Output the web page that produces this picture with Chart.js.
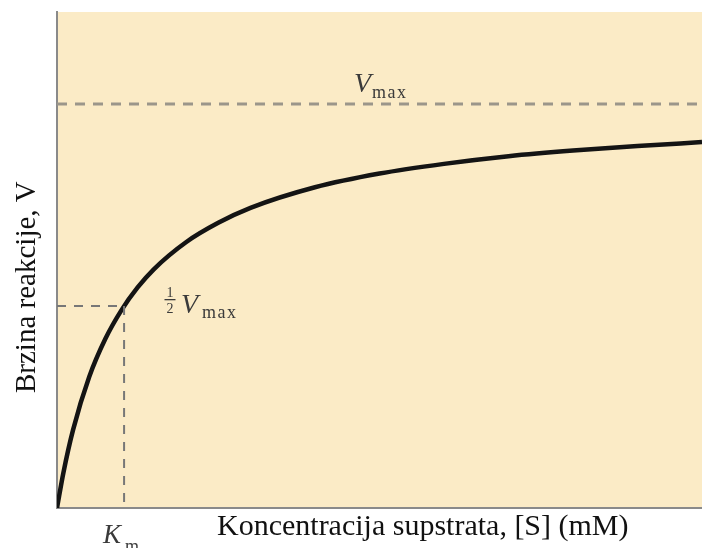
<!DOCTYPE html>
<html><head><meta charset="utf-8">
<script src="https://cdn.jsdelivr.net/npm/chart.js@4.4.1/dist/chart.umd.min.js"></script>
<style>html,body{margin:0;padding:0;background:#fff}#wrap{width:702px;height:548px}</style>
</head><body><div id="wrap"><canvas id="c" width="702" height="548"></canvas></div>
<script>
// Substrate concentration [S] (mM) and reaction rate V
const substrate = [0, 0.1, 0.25, 0.5, 0.75, 1, 1.25, 1.5, 2, 2.5, 3, 4, 5, 6, 7, 8, 9, 10];
const rate      = [0, 8.8, 19.4, 32.5, 41.9, 49.0, 54.6, 59.1, 65.8, 70.6, 74.3, 79.4, 82.8, 85.2, 87.1, 88.5, 89.6, 90.6];
const vmax = 100;
const km = 1.04;
const xRange = [0, 10];
const yRange = [0, 122.8];
const xTitle = "Koncentracija supstrata, [S] (mM)";
const yTitle = "Brzina reakcije, V";

const curve = substrate.map((s, i) => ({x: s, y: rate[i]}));
const dashColor = '#9b968a';

function sub(ctx, main, subText, x, y, mainSize, subSize, subDx, subDy) {
  ctx.font = 'italic ' + mainSize + 'px "Liberation Serif", serif';
  ctx.fillText(main, x, y);
  ctx.font = subSize + 'px "Liberation Serif", serif';
  ctx.letterSpacing = '1.5px';
  ctx.fillText(subText, x + subDx, y + subDy);
  ctx.letterSpacing = '0px';
}

const bgPlugin = {
  id: 'bg',
  beforeDraw(chart) {
    const {ctx, chartArea: a} = chart;
    ctx.save();
    ctx.fillStyle = '#fbebc6';
    ctx.fillRect(a.left, a.top, a.right - a.left, a.bottom - a.top);
    ctx.restore();
  },
  afterDraw(chart) {
    const {ctx} = chart;
    ctx.save();
    // axis titles
    ctx.fillStyle = '#111';
    ctx.textBaseline = 'alphabetic';
    ctx.textAlign = 'left';
    ctx.font = '30px "Liberation Serif", "Times New Roman", serif';
    ctx.fillText(xTitle, 217, 535);
    ctx.save();
    ctx.translate(35, 393);
    ctx.rotate(-Math.PI / 2);
    ctx.font = '29px "Liberation Serif", "Times New Roman", serif';
    ctx.fillText(yTitle, 0, 0);
    ctx.restore();
    // Vmax label
    ctx.fillStyle = '#3a3a3a';
    sub(ctx, 'V', 'max', 354, 92, 28, 18, 18, 6);
    // 1/2 Vmax label
    ctx.font = '14px "Liberation Serif", serif';
    ctx.textAlign = 'center';
    ctx.fillText('1', 170, 297);
    ctx.fillText('2', 170, 313);
    ctx.fillRect(164.5, 299, 11, 1.3);
    ctx.textAlign = 'left';
    sub(ctx, 'V', 'max', 181, 313, 28, 18, 21, 5);
    // Km label
    sub(ctx, 'K', 'm', 103, 543, 27, 18, 22, 9);
    ctx.restore();
  }
};

new Chart(document.getElementById('c'), {
  type: 'line',
  data: {
    datasets: [
      {data: [{x: xRange[0], y: vmax}, {x: xRange[1], y: vmax}], borderColor: dashColor, borderWidth: 3, borderDash: [10, 8], pointRadius: 0},
      {data: [{x: xRange[0], y: vmax / 2}, {x: km, y: vmax / 2}], borderColor: '#777', borderWidth: 2, borderDash: [9, 8], pointRadius: 0},
      {data: [{x: km, y: vmax / 2}, {x: km, y: 0}], borderColor: '#777', borderWidth: 2, borderDash: [9, 8], pointRadius: 0},
      {data: curve, borderColor: '#141414', borderWidth: 4.5, pointRadius: 0, cubicInterpolationMode: 'monotone'}
    ]
  },
  options: {
    responsive: false,
    animation: false,
    layout: {padding: {left: 57, top: 12, right: 0, bottom: 40}},
    plugins: {legend: {display: false}, tooltip: {enabled: false}},
    scales: {
      x: {type: 'linear', min: xRange[0], max: xRange[1],
          grid: {display: false, drawTicks: false}, ticks: {display: false},
          border: {display: true, color: '#8a8a8a', width: 2}},
      y: {type: 'linear', min: yRange[0], max: yRange[1],
          grid: {display: false, drawTicks: false}, ticks: {display: false},
          border: {display: true, color: '#8a8a8a', width: 2}}
    }
  },
  plugins: [bgPlugin]
});
</script></body></html>
